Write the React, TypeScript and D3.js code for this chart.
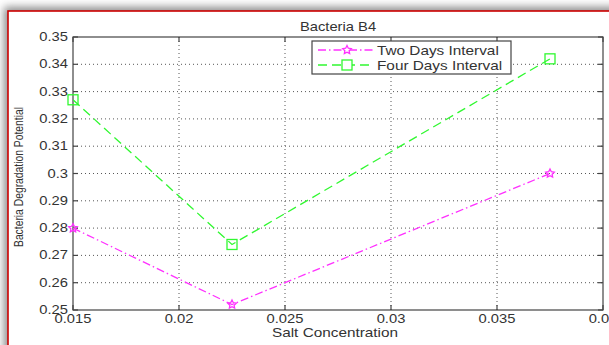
import React from "react";
import * as d3 from "d3";

const salt = [0.015, 0.0225, 0.0375];
const twoDays = [0.28, 0.252, 0.3];
const fourDays = [0.327, 0.274, 0.342];
const xTicks = [0.015, 0.02, 0.025, 0.03, 0.035, 0.04];
const yTicks = [0.25, 0.26, 0.27, 0.28, 0.29, 0.3, 0.31, 0.32, 0.33, 0.34, 0.35];
const seriesNames = ["Two Days Interval", "Four Days Interval"];

const W = 609;
const H = 345;
const M = { left: 73, right: 603, top: 37, bottom: 310 };
const FONT = "'Liberation Sans', Arial, sans-serif";
const MAGENTA = "#ff30ff";
const GREEN = "#30f830";
const TEXT = "#333333";
const SX = 1.18; // wide text rendering
const DASH_DOT = "8,3,1.5,3";
const DASHED = "9,5";

function star(cx: number, cy: number, r: number) {
  const pts: [number, number][] = [];
  for (let i = 0; i < 10; i++) {
    const a = -Math.PI / 2 + (i * Math.PI) / 5;
    const rr = i % 2 === 0 ? r : r * 0.5;
    pts.push([cx + rr * Math.cos(a), cy + rr * Math.sin(a)]);
  }
  return "M" + pts.map((p) => p.join(",")).join("L") + "Z";
}

function WideText(props: {
  x: number;
  y: number;
  anchor?: "start" | "middle" | "end";
  size?: number;
  children: React.ReactNode;
}) {
  return (
    <text
      transform={`translate(${props.x},${props.y}) scale(${SX},1)`}
      textAnchor={props.anchor || "start"}
      fontSize={props.size || 13}
      fill={TEXT}
    >
      {props.children}
    </text>
  );
}

export default function App() {
  const x = d3.scaleLinear().domain([0.015, 0.04]).range([M.left, M.right]);
  const y = d3.scaleLinear().domain([0.25, 0.35]).range([M.bottom, M.top]);
  const line = d3
    .line<number>()
    .x((_, i) => x(salt[i]))
    .y((d) => y(d));

  const fmt = (v: number) => String(+v.toFixed(3));

  return (
    <svg
      width={W}
      height={H}
      style={{ position: "absolute", left: 0, top: 0 }}
      fontFamily={FONT}
    >
      <defs>
        <filter id="shadow" x="-10%" y="-10%" width="120%" height="120%">
          <feGaussianBlur stdDeviation="4" />
        </filter>
        <clipPath id="plotClip">
          <rect x={M.left} y={M.top - 1} width={M.right - M.left} height={M.bottom - M.top + 2} />
        </clipPath>
      </defs>
      <rect x={0} y={0} width={W} height={H} fill="#ffffff" />
      <rect x={4} y={7} width={W + 20} height={H + 20} fill="#8a8a8a" filter="url(#shadow)" />
      <rect x={8} y={11} width={W + 20} height={H + 20} fill="#ffffff" stroke="#cc0000" strokeWidth={1.6} />

      {/* grid */}
      <g stroke="#444" strokeWidth={0.9} strokeDasharray="1,3">
        {xTicks.slice(1, -1).map((t) => (
          <line key={"gx" + t} x1={x(t)} x2={x(t)} y1={M.top} y2={M.bottom} />
        ))}
        {yTicks.slice(1, -1).map((t) => (
          <line key={"gy" + t} x1={M.left} x2={M.right} y1={y(t)} y2={y(t)} />
        ))}
      </g>

      {/* axes box */}
      <rect
        x={M.left}
        y={M.top}
        width={M.right - M.left}
        height={M.bottom - M.top}
        fill="none"
        stroke="#444"
        strokeWidth={1.2}
      />
      <g stroke="#444" strokeWidth={1.2}>
        {xTicks.map((t) => (
          <g key={"tx" + t}>
            <line x1={x(t)} x2={x(t)} y1={M.bottom} y2={M.bottom - 5} />
            <line x1={x(t)} x2={x(t)} y1={M.top} y2={M.top + 5} />
          </g>
        ))}
        {yTicks.map((t) => (
          <g key={"ty" + t}>
            <line x1={M.left} x2={M.left + 5} y1={y(t)} y2={y(t)} />
            <line x1={M.right} x2={M.right - 5} y1={y(t)} y2={y(t)} />
          </g>
        ))}
      </g>

      {/* tick labels */}
      {xTicks.map((t) => (
        <WideText key={"lx" + t} x={x(t)} y={M.bottom + 13} anchor="middle" size={12.5}>
          {fmt(t)}
        </WideText>
      ))}
      {yTicks.map((t) => (
        <WideText key={"ly" + t} x={M.left - 5} y={y(t) + 4} anchor="end" size={12.5}>
          {fmt(t)}
        </WideText>
      ))}

      {/* titles */}
      <WideText x={(M.left + M.right) / 2} y={31} anchor="middle" size={12.5}>
        Bacteria B4
      </WideText>
      <WideText x={335} y={337} anchor="middle" size={13}>
        Salt Concentration
      </WideText>
      <text
        transform={`translate(23,177) rotate(-90)`}
        fontSize={12}
        textAnchor="middle"
        fill={TEXT}
        textLength={140}
        lengthAdjust="spacingAndGlyphs"
      >
        Bacteria Degradation Potential
      </text>

      {/* series */}
      <g clipPath="url(#plotClip)">
        <path d={line(twoDays) || ""} fill="none" stroke={MAGENTA} strokeWidth={1.3} strokeDasharray={DASH_DOT} />
        <path d={line(fourDays) || ""} fill="none" stroke={GREEN} strokeWidth={1.3} strokeDasharray={DASHED} />
      </g>
      {twoDays.map((v, i) => (
        <path key={"m2" + i} d={star(x(salt[i]), y(v), 4.5)} fill="none" stroke={MAGENTA} strokeWidth={1.3} />
      ))}
      {fourDays.map((v, i) => (
        <rect
          key={"m4" + i}
          x={x(salt[i]) - 5}
          y={y(v) - 5}
          width={10}
          height={10}
          fill="none"
          stroke={GREEN}
          strokeWidth={1.3}
        />
      ))}

      {/* legend */}
      <g>
        <rect x={312} y={41} width={199} height={33} fill="#fff" stroke="#444" strokeWidth={1.2} />
        <line x1={318} x2={374} y1={50} y2={50} stroke={MAGENTA} strokeWidth={1.3} strokeDasharray={DASH_DOT} />
        <path d={star(347, 50, 4.5)} fill="#fff" stroke={MAGENTA} strokeWidth={1.3} />
        <line x1={318} x2={374} y1={65} y2={65} stroke={GREEN} strokeWidth={1.3} strokeDasharray={DASHED} />
        <rect x={342} y={60} width={10} height={10} fill="#fff" stroke={GREEN} strokeWidth={1.3} />
        <WideText x={377} y={55} size={13}>
          {seriesNames[0]}
        </WideText>
        <WideText x={377} y={70} size={13}>
          {seriesNames[1]}
        </WideText>
      </g>
    </svg>
  );
}
